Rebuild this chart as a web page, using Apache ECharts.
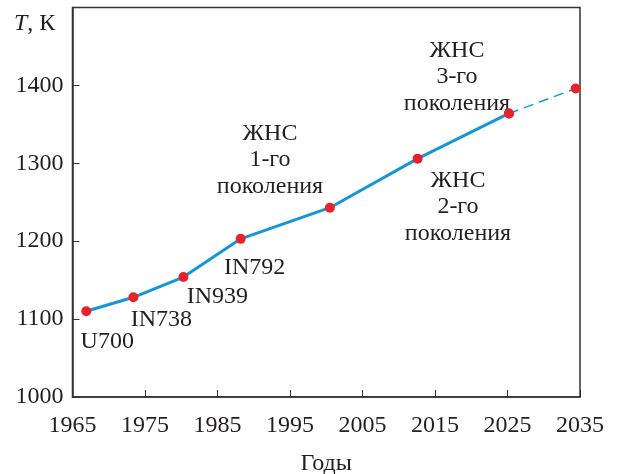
<!DOCTYPE html>
<html>
<head>
<meta charset="utf-8">
<script src="https://cdn.jsdelivr.net/npm/echarts@6/dist/echarts.min.js"></script>
<style>
  html, body { margin: 0; padding: 0; background: #fff; }
  #chart { width: 619px; height: 474px; }
</style>
</head>
<body>
<div id="chart"></div>
<script>
// Рабочая температура лопаток по годам
const years = [1966.9, 1973.4, 1980.3, 1988.2, 2000.5, 2012.6, 2025.2];
const temps = [1110, 1128, 1154, 1203, 1243, 1306, 1364];
const forecastYears = [2025.2, 2034.4];
const forecastTemps = [1364, 1396];
const alloyNames = ['U700', 'IN738', 'IN939', 'IN792', '', '', ''];
const xTicks = [1965, 1975, 1985, 1995, 2005, 2015, 2025, 2035];
const yTicks = [1000, 1100, 1200, 1300, 1400];

const FONT = '"Liberation Serif", "Times New Roman", serif';
const FS = 24;
const TXT = '#231f20';
const LINE = '#1496d8';
const DOT = '#e8222b';

// сдвиги подписей сплавов относительно точек
const nameOffsets = [[21, 30], [28, 22], [34, 20], [14, 29], [0, 0], [0, 0], [0, 0]];

const mainData = years.map((y, i) => ({
  value: [y, temps[i]],
  label: {
    show: !!alloyNames[i],
    formatter: alloyNames[i],
    position: 'inside',
    offset: nameOffsets[i]
  }
}));

const chart = echarts.init(document.getElementById('chart'), null, { renderer: 'canvas' });

const genText = (lines, x, y) => ({
  type: 'text',
  x: x, y: y,
  style: {
    text: lines.join('\n'),
    fontFamily: FONT,
    fontSize: FS,
    fill: TXT,
    align: 'center',
    verticalAlign: 'top',
    lineHeight: 26.5
  }
});

chart.setOption({
  animation: false,
  grid: {
    left: 72.5, right: 39, top: 7.5, bottom: 77,
    containLabel: false,
    outerBoundsMode: 'none',
    show: true, borderColor: '#333', borderWidth: 1.5, backgroundColor: 'transparent'
  },
  xAxis: {
    type: 'value',
    min: xTicks[0], max: xTicks[xTicks.length - 1], interval: 10,
    name: 'Годы', nameLocation: 'middle', nameGap: 55,
    nameTextStyle: { fontFamily: FONT, fontSize: FS, color: TXT },
    axisLine: { lineStyle: { color: '#333', width: 1.5 } },
    axisTick: { inside: true, length: 7, lineStyle: { color: '#333', width: 1 } },
    axisLabel: {
      fontFamily: FONT, fontSize: FS, color: TXT, margin: 17,
      formatter: v => String(v)
    },
    splitLine: { show: false }
  },
  yAxis: {
    type: 'value',
    min: yTicks[0], max: 1500, interval: 100,
    axisLine: { lineStyle: { color: '#333', width: 1.5 } },
    axisTick: { inside: true, length: 7, lineStyle: { color: '#333', width: 1 } },
    axisLabel: {
      fontFamily: FONT, fontSize: FS, color: TXT, margin: 9,
      formatter: v => (yTicks.indexOf(v) >= 0 ? String(v) : '')
    },
    splitLine: { show: false }
  },
  series: [
    {
      type: 'line',
      data: mainData,
      symbol: 'circle', symbolSize: 10,
      itemStyle: { color: DOT },
      lineStyle: { color: LINE, width: 3 },
      label: { fontFamily: FONT, fontSize: FS, color: TXT },
      z: 3
    },
    {
      type: 'line',
      data: forecastYears.map((y, i) => [y, forecastTemps[i]]),
      symbol: 'circle', symbolSize: 10,
      itemStyle: { color: DOT },
      lineStyle: { color: LINE, width: 1.5, type: [10, 6] },
      z: 2
    }
  ],
  graphic: [
    {
      type: 'text', x: 14, y: 12,
      style: {
        text: '{i|T}, К',
        rich: {
          i: { fontFamily: FONT, fontStyle: 'italic', fontSize: FS, fill: TXT }
        },
        fontFamily: FONT,
        fontSize: FS,
        fill: TXT
      }
    },
    genText(['ЖНС', '1-го', 'поколения'], 270, 120),
    genText(['ЖНС', '2-го', 'поколения'], 458, 167),
    genText(['ЖНС', '3-го', 'поколения'], 457, 37)
  ]
});
</script>
</body>
</html>
